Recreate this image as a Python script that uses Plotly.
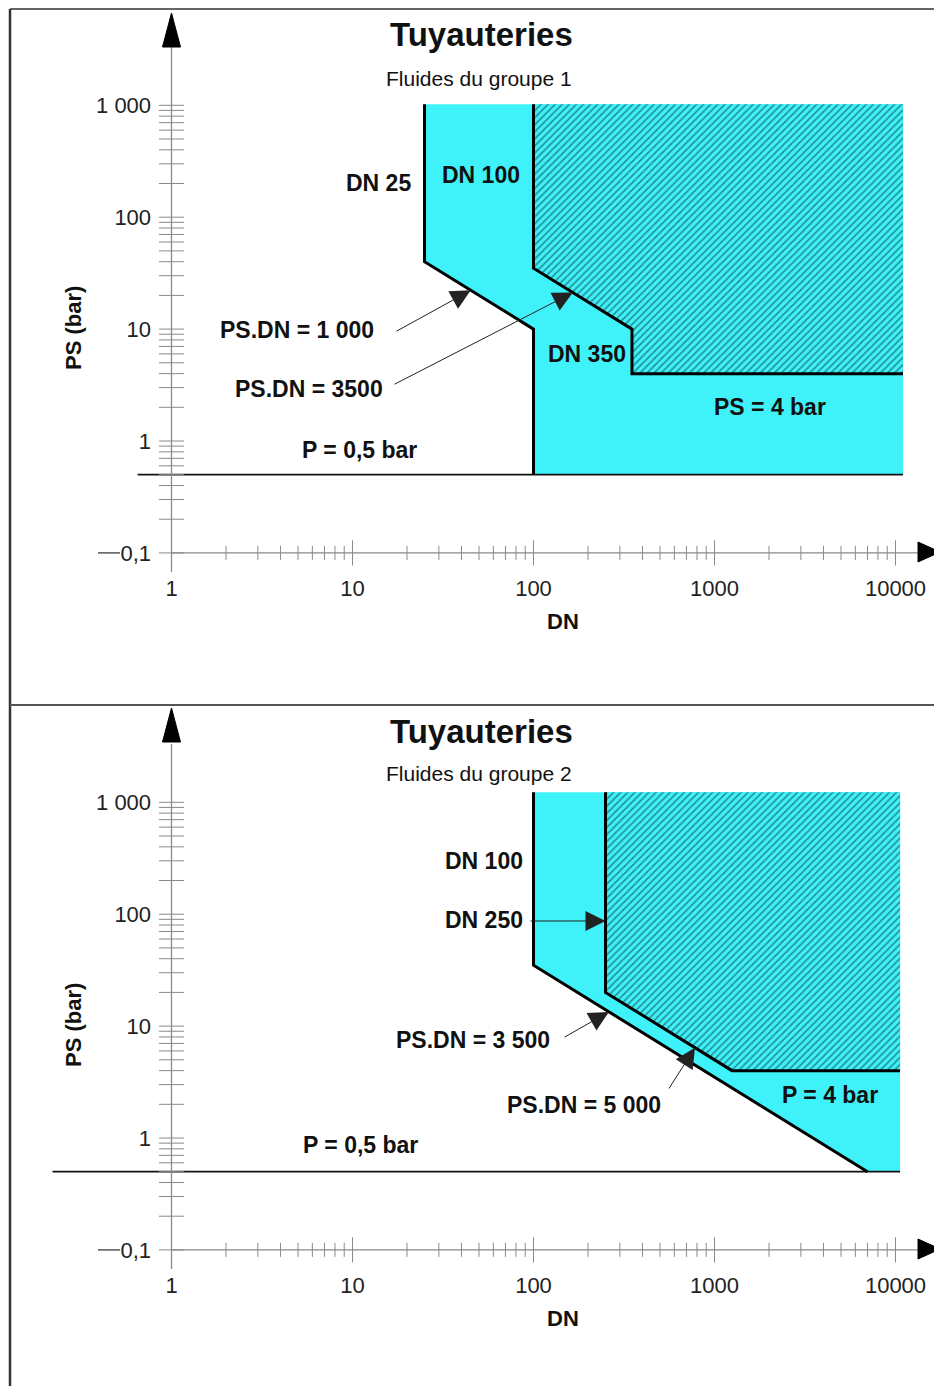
import math
import plotly.graph_objects as go

# The page body has an 8 px margin: the figure is drawn from (8, 8) of the window.
WIN_W, WIN_H = 942, 1394
OFF = 8
W, H = WIN_W - OFF, WIN_H - 2 * OFF

# ---------------- data ----------------
y_tickvals = [0.1, 1, 10, 100, 1000]
y_ticktext = ["0,1", "1", "10", "100", "1 000"]
x_tickvals = [1, 10, 100, 1000, 10000]
x_ticktext = ["1", "10", "100", "1000", "10000"]

# Groupe 1
g1_zone_dn = [25, 25, 100, 100, 11000, 11000]
g1_zone_ps = [1020, 40, 10, 0.5, 0.5, 1020]
g1_hatch_dn = [100, 100, 350, 350, 11000, 11000]
g1_hatch_ps = [1020, 35, 10, 4, 4, 1020]
g1_limA_dn = [25, 25, 100, 100]
g1_limA_ps = [1020, 40, 10, 0.5]
g1_limB_dn = [100, 100, 350, 350, 11000]
g1_limB_ps = [1020, 35, 10, 4, 4]
g1_p05_dn = [0.65, 11000]
g1_p05_ps = [0.5, 0.5]
g1_arrow_tip_dn = [45, 165]
g1_arrow_tip_ps = [22.2, 21.2]

# Groupe 2
g2_zone_dn = [100, 100, 7000, 10600, 10600]
g2_zone_ps = [1230, 35, 0.5, 0.5, 1230]
g2_hatch_dn = [250, 250, 1250, 10600, 10600]
g2_hatch_ps = [1230, 20, 4, 4, 1230]
g2_limA_dn = [100, 100, 7000]
g2_limA_ps = [1230, 35, 0.5]
g2_limB_dn = [250, 250, 1250, 10600]
g2_limB_ps = [1230, 20, 4, 4]
g2_p05_dn = [0.22, 10600]
g2_p05_ps = [0.5, 0.5]
g2_arrow_tip_dn = [250, 261, 780]
g2_arrow_tip_ps = [87, 13.4, 6.4]

# ---------------- geometry helpers (window pixel coords) ----------------
X0, XS = 171.5, 181.0          # pixel of DN=1, px per decade
YS = 111.9                     # px per decade (PS)
Y1 = {1: 441.0, 2: 1138.0}     # pixel of PS=1 for each panel
XAX = {1: 552.0, 2: 1249.0}    # pixel row of the x axis (PS=0.1)
SPLIT = 705.0                  # pixel row separating the two panels
BOTTOM = OFF + H               # last window row covered by the figure


def lx(px):
    return (px - X0) / XS


def ly(py, p):
    return (Y1[p] - py) / YS


def dn_px(px):
    return 10 ** lx(px)


def ps_py(py, p):
    return 10 ** ly(py, p)


def PX(px):
    return (px - OFF) / W


def PY(py):
    return 1 - (py - OFF) / H


CYAN = "#3FF1F8"
TXT = "#111111"
AXC = "#8a8a8a"
FONT = "Liberation Sans, Arial, sans-serif"

fig = go.Figure()

xr = [lx(OFF), lx(OFF + W)]
yr1 = [ly(SPLIT, 1), ly(OFF, 1)]
yr2 = [ly(BOTTOM, 2), ly(SPLIT, 2)]

panels = {
    1: dict(xa="x", ya="y", zone=(g1_zone_dn, g1_zone_ps), hatch=(g1_hatch_dn, g1_hatch_ps),
            limA=(g1_limA_dn, g1_limA_ps), limB=(g1_limB_dn, g1_limB_ps), p05=(g1_p05_dn, g1_p05_ps)),
    2: dict(xa="x2", ya="y2", zone=(g2_zone_dn, g2_zone_ps), hatch=(g2_hatch_dn, g2_hatch_ps),
            limA=(g2_limA_dn, g2_limA_ps), limB=(g2_limB_dn, g2_limB_ps), p05=(g2_p05_dn, g2_p05_ps)),
}

y_minor = [m * 10 ** e for e in range(-1, 3) for m in range(1, 10)] + [1000]
x_minor = [m * 10 ** e for e in range(0, 4) for m in range(2, 10)]
x_major = [10, 100, 1000, 10000]

for p, d in panels.items():
    xa, ya = d["xa"], d["ya"]
    common = dict(xaxis=xa, yaxis=ya, showlegend=False, hoverinfo="skip")
    fig.add_trace(go.Scatter(x=d["zone"][0], y=d["zone"][1], mode="lines", fill="toself",
                             fillcolor=CYAN, line=dict(width=0), **common))
    fig.add_trace(go.Scatter(x=d["hatch"][0], y=d["hatch"][1], mode="lines", fill="toself",
                             fillcolor=CYAN,
                             fillpattern=dict(shape="/", bgcolor=CYAN, fgcolor="#082c30",
                                              size=5, solidity=0.33),
                             line=dict(width=0), **common))
    fig.add_trace(go.Scatter(x=d["p05"][0], y=d["p05"][1], mode="lines",
                             line=dict(color="#111", width=1.8), **common))
    for key in ("limA", "limB"):
        fig.add_trace(go.Scatter(x=d[key][0], y=d[key][1], mode="lines",
                                 line=dict(color="#000", width=3), **common))
    # y axis line
    fig.add_trace(go.Scatter(x=[1, 1], y=[ps_py(XAX[p] + 20, p), ps_py(XAX[p] - 505, p)], mode="lines",
                             line=dict(color=AXC, width=1.3), **common))
    # x axis line
    fig.add_trace(go.Scatter(x=[1, dn_px(920)], y=[0.1, 0.1], mode="lines",
                             line=dict(color=AXC, width=1.3), **common))
    # short dash before 0,1
    fig.add_trace(go.Scatter(x=[dn_px(98), dn_px(120)], y=[0.1, 0.1], mode="lines",
                             line=dict(color="#555", width=1.5), **common))
    # y ticks
    fig.add_trace(go.Scatter(x=[1] * len(y_minor), y=y_minor, mode="markers",
                             marker=dict(symbol="line-ew", size=18, line=dict(color=AXC, width=1.0)),
                             **common))
    # x ticks
    fig.add_trace(go.Scatter(x=x_minor, y=[0.1] * len(x_minor), mode="markers",
                             marker=dict(symbol="line-ns", size=10, line=dict(color=AXC, width=1.0)),
                             **common))
    fig.add_trace(go.Scatter(x=x_major, y=[0.1] * len(x_major), mode="markers",
                             marker=dict(symbol="line-ns", size=18, line=dict(color=AXC, width=1.0)),
                             **common))

axis_common = dict(type="log", showgrid=False, zeroline=False, showline=False,
                   ticks="outside", tickcolor="rgba(0,0,0,0)",
                   tickfont=dict(family=FONT, size=22, color="#222"))

fig.update_layout(
    xaxis=dict(range=xr, domain=[0, 1], anchor="free", position=PY(XAX[1]),
               tickvals=x_tickvals, ticktext=x_ticktext, ticklen=17, **axis_common),
    yaxis=dict(range=yr1, domain=[PY(SPLIT), 1], anchor="free", position=PX(X0),
               tickvals=y_tickvals, ticktext=y_ticktext, ticklen=16, **axis_common),
    xaxis2=dict(range=xr, domain=[0, 1], anchor="free", position=PY(XAX[2]),
                tickvals=x_tickvals, ticktext=x_ticktext, ticklen=17, **axis_common),
    yaxis2=dict(range=yr2, domain=[0, PY(SPLIT)], anchor="free", position=PX(X0),
                tickvals=y_tickvals, ticktext=y_ticktext, ticklen=16, **axis_common),
)

# ---------------- shapes: frame + axis arrowheads ----------------
shapes = []
shapes.append(dict(type="line", xref="paper", yref="paper", x0=PX(10), x1=PX(WIN_W), y0=PY(9), y1=PY(9),
                   line=dict(color="#666", width=2)))
shapes.append(dict(type="line", xref="paper", yref="paper", x0=PX(10), x1=PX(10), y0=PY(9), y1=PY(BOTTOM),
                   line=dict(color="#333", width=2.5)))
shapes.append(dict(type="line", xref="paper", yref="paper", x0=PX(10), x1=PX(WIN_W), y0=PY(SPLIT), y1=PY(SPLIT),
                   line=dict(color="#555", width=2)))
for p in (1, 2):
    off = 0 if p == 1 else 695
    tipy, basey = 13 + off, 47 + off
    path = f"M {PX(X0)},{PY(tipy)} L {PX(X0 - 9)},{PY(basey)} L {PX(X0 + 9)},{PY(basey)} Z"
    shapes.append(dict(type="path", xref="paper", yref="paper", path=path,
                       fillcolor="#000", line=dict(color="#000", width=1)))
    yy = XAX[p]
    path = f"M {PX(940)},{PY(yy)} L {PX(918)},{PY(yy - 10)} L {PX(918)},{PY(yy + 10)} Z"
    shapes.append(dict(type="path", xref="paper", yref="paper", path=path,
                       fillcolor="#000", line=dict(color="#000", width=1)))
fig.update_layout(shapes=shapes)

# ---------------- texts ----------------
ann = []


def txt(s, px, py, size=23, bold=True, anchor="center", angle=0, color=TXT):
    ann.append(dict(text=f"<b>{s}</b>" if bold else s, x=PX(px), y=PY(py), xref="paper", yref="paper",
                    showarrow=False, xanchor=anchor, yanchor="middle", textangle=angle,
                    font=dict(family=FONT, size=size, color=color)))


for p in (1, 2):
    off = 0 if p == 1 else 697
    txt("Tuyauteries", 481, 35 + off, size=33)
    txt(f"Fluides du groupe {p}", 384, 78 + off - (2 if p == 2 else 0), size=21, bold=False, anchor="left")
    txt("PS (bar)", 73, 328 + off, size=22, angle=-90)
    txt("DN", 563, 621 + off, size=22)

# panel 1 labels
txt("DN 25", 378, 183)
txt("DN 100", 481, 175)
txt("PS.DN = 1 000", 297, 330)
txt("PS.DN = 3500", 309, 389)
txt("P = 0,5 bar", 359, 450)
txt("DN 350", 587, 354)
txt("PS = 4 bar", 770, 407)
# panel 2 labels
txt("DN 100", 484, 861)
txt("DN 250", 484, 920)
txt("PS.DN = 3 500", 473, 1040)
txt("PS.DN = 5 000", 584, 1105)
txt("P = 4 bar", 830, 1095)
txt("P = 0,5 bar", 360, 1145)


def arrow(tip_dn, tip_ps, tail_px, tail_py, p):
    xa, ya = ("x", "y") if p == 1 else ("x2", "y2")
    ann.append(dict(text="", x=math.log10(tip_dn), y=math.log10(tip_ps), xref=xa, yref=ya,
                    ax=lx(tail_px), ay=ly(tail_py, p), axref=xa, ayref=ya,
                    showarrow=True, arrowhead=2, arrowsize=4, arrowwidth=1.0,
                    arrowcolor="#222", standoff=0))


arrow(g1_arrow_tip_dn[0], g1_arrow_tip_ps[0], 395, 332, 1)
arrow(g1_arrow_tip_dn[1], g1_arrow_tip_ps[1], 393, 385, 1)
arrow(g2_arrow_tip_dn[0], g2_arrow_tip_ps[0], 529, 921, 2)
arrow(g2_arrow_tip_dn[1], g2_arrow_tip_ps[1], 563, 1038, 2)
arrow(g2_arrow_tip_dn[2], g2_arrow_tip_ps[2], 668, 1090, 2)

fig.update_layout(annotations=ann)

fig.update_layout(width=W, height=H, margin=dict(l=0, r=0, t=0, b=0, pad=0),
                  paper_bgcolor="white", plot_bgcolor="rgba(0,0,0,0)",
                  font=dict(family=FONT, color=TXT), showlegend=False)

fig.write_html("out.html")
